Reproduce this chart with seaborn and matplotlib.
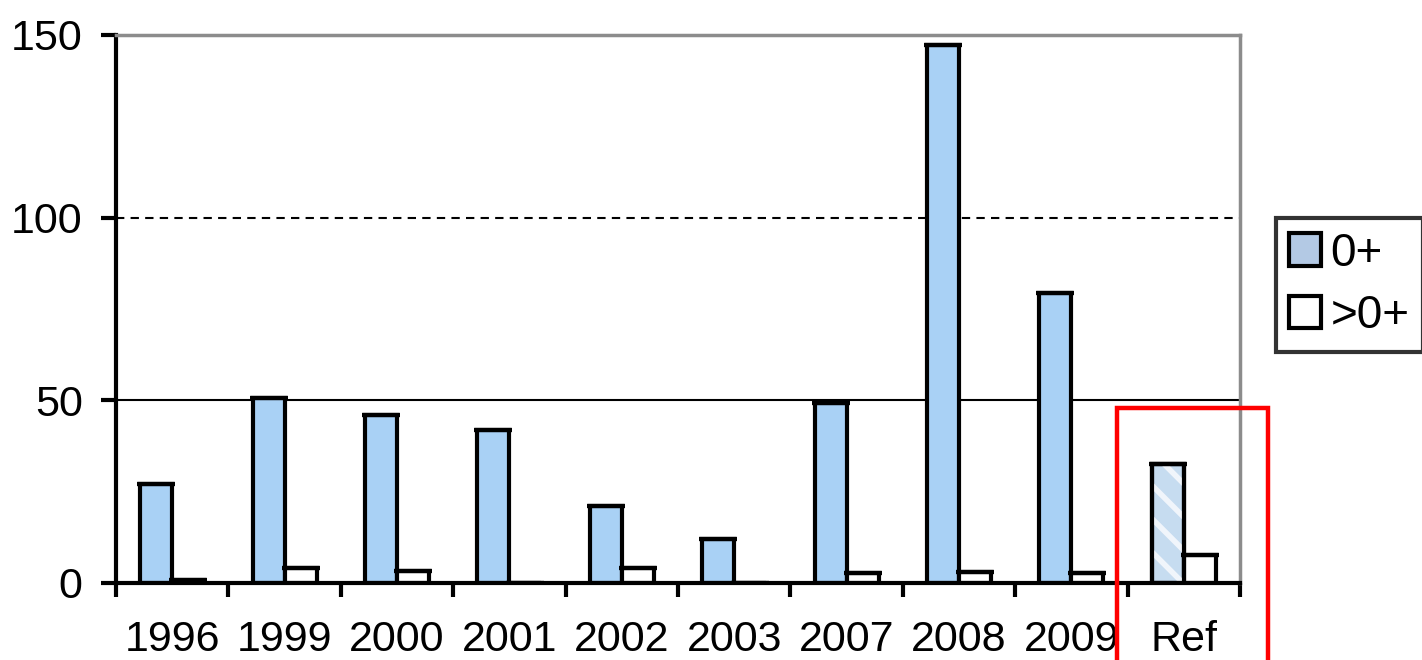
import numpy as np
import pandas as pd
import matplotlib
matplotlib.use("Agg")
import matplotlib.pyplot as plt
from matplotlib.patches import Rectangle
from matplotlib.container import BarContainer
import seaborn as sns

# values
YEARS = ["1996", "1999", "2000", "2001", "2002", "2003", "2007", "2008", "2009", "Ref"]
AGE0 = [27.1, 50.5, 46.0, 42.0, 21.0, 12.0, 49.4, 147.3, 79.4, 32.5]
OLDER = [0.8, 4.2, 3.3, 0.0, 4.1, 0.0, 2.6, 3.1, 2.6, 7.7]
GROUPS = ["0+", ">0+"]
Y_TICKS = [0, 50, 100, 150]

BLUE = "#a9d1f5"
FONT_SIZE = 31
LW = 3

sns.set_style("white")
plt.rcParams["font.family"] = ["Liberation Sans", "DejaVu Sans"]
plt.rcParams["text.color"] = "black"
plt.rcParams["xtick.color"] = "black"
plt.rcParams["ytick.color"] = "black"
plt.rcParams["hatch.linewidth"] = 4

df = pd.DataFrame({
    "year": YEARS * 2,
    "group": [GROUPS[0]] * len(YEARS) + [GROUPS[1]] * len(YEARS),
    "value": AGE0 + OLDER,
})

fig = plt.figure(figsize=(14.22, 6.6), dpi=100)
ax = fig.add_axes([0.0816, 0.1167, 0.872 - 0.0816, 0.947 - 0.1167])

sns.barplot(data=df, x="year", y="value", hue="group", order=YEARS,
            hue_order=GROUPS, palette={GROUPS[0]: BLUE, GROUPS[1]: "white"},
            width=0.57, gap=0, edgecolor="black", linewidth=LW,
            saturation=1, errorbar=None, ax=ax)

bars = [c for c in ax.containers if isinstance(c, BarContainer)]

# caps on top of each bar
for cont in bars:
    xs = [p.get_x() + p.get_width() / 2 for p in cont.patches]
    hs = [p.get_height() for p in cont.patches]
    ax.errorbar(xs, hs, yerr=0, fmt="none", ecolor="black",
                capsize=14, capthick=LW, elinewidth=0, zorder=5)

# hatched reference bar
ref = bars[0].patches[YEARS.index("Ref")]
ref.set_facecolor("#c6dcf0")
ax.add_patch(Rectangle((ref.get_x(), 0), ref.get_width(), ref.get_height(),
                       fill=False, hatch="\\", edgecolor="#f0f5fb",
                       linewidth=0, zorder=ref.get_zorder() + 0.1))
ax.add_patch(Rectangle((ref.get_x(), 0), ref.get_width(), ref.get_height(),
                       fill=False, edgecolor="black", linewidth=LW,
                       zorder=ref.get_zorder() + 0.2))

ax.set_ylim(0, 150)
ax.set_xlim(-0.5, len(YEARS) - 0.5)
ax.set_yticks(Y_TICKS)
ax.set_yticklabels([str(t) for t in Y_TICKS], fontsize=FONT_SIZE)
ax.set_xticks(range(len(YEARS)))
ax.set_xticklabels(YEARS, fontsize=FONT_SIZE)
ax.set_xticks(np.arange(-0.5, len(YEARS), 1.0), minor=True)
ax.tick_params(axis="x", which="major", bottom=True, length=0, pad=27)
ax.tick_params(axis="x", which="minor", bottom=True, length=10, width=LW,
               direction="out")
ax.tick_params(axis="y", left=True, length=11, width=LW, direction="out",
               pad=13)
ax.set_xlabel("")
ax.set_ylabel("")

ax.axhline(50, color="black", linewidth=1.5, zorder=0)
ax.axhline(100, color="black", linewidth=1.5, linestyle=(0, (4, 3)), zorder=0)

for side in ["left", "bottom"]:
    ax.spines[side].set_color("black")
    ax.spines[side].set_linewidth(LW)
for side in ["top", "right"]:
    ax.spines[side].set_color("#8c8c8c")
    ax.spines[side].set_linewidth(2.5)

handles, labels = ax.get_legend_handles_labels()
if ax.get_legend() is not None:
    ax.get_legend().remove()
leg = fig.legend(handles, labels, loc="upper left",
                 bbox_to_anchor=(0.897, 0.67), fontsize=FONT_SIZE + 2,
                 frameon=True, fancybox=False, edgecolor="black",
                 handlelength=0.7, handleheight=0.7, handletextpad=0.2,
                 labelspacing=0.4, borderpad=0.3, borderaxespad=0)
leg.get_frame().set_linewidth(LW)
leg.legend_handles[0].set_facecolor("#b3c9e4")
for h in leg.legend_handles:
    h.set_linewidth(LW)

# red highlight box around the reference bar
fig.add_artist(Rectangle((0.7855, -0.05), 0.106, 0.382 + 0.05,
                         transform=fig.transFigure, fill=False,
                         edgecolor="red", linewidth=3.2, clip_on=False))

fig.savefig("out.png", dpi=100)
